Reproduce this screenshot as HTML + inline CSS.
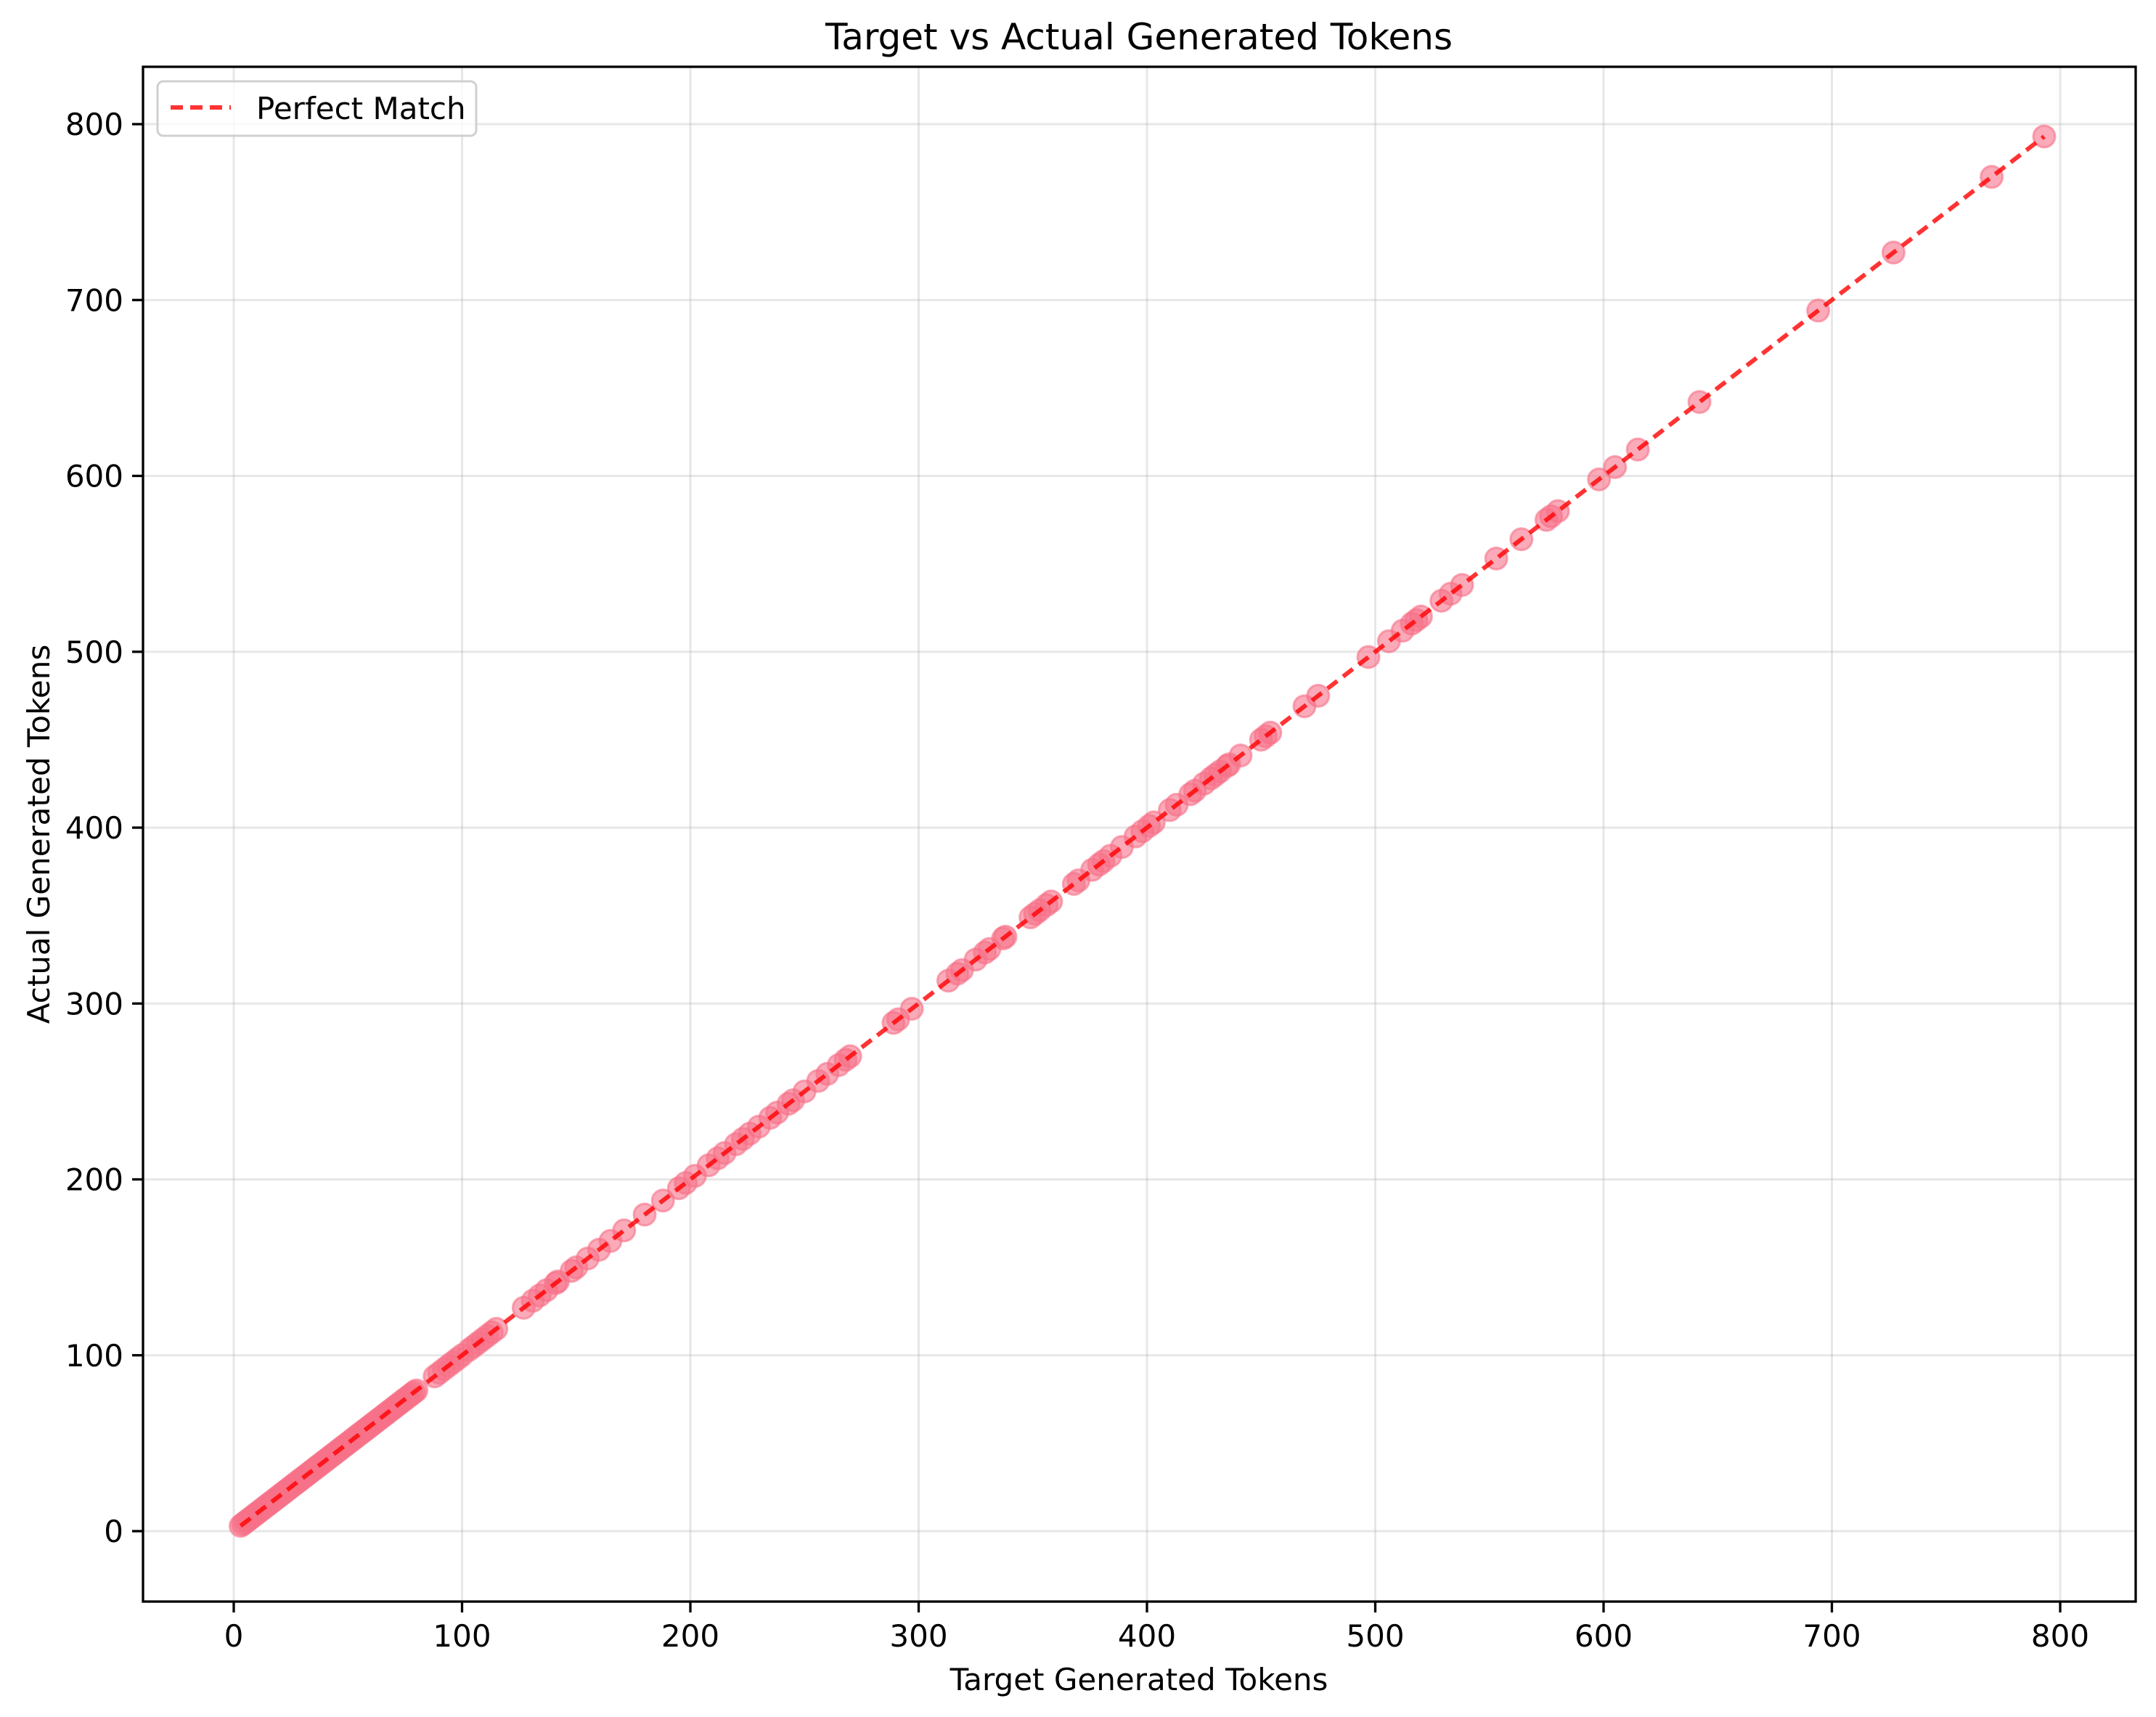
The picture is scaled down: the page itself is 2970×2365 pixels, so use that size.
<!DOCTYPE html>
<html><head><meta charset="utf-8"><style>
html,body{margin:0;padding:0;background:#fff}
svg{display:block;font-family:"DejaVu Sans","Liberation Sans",sans-serif}
</style></head><body>
<svg id="chart" width="2970" height="2365" viewBox="0 0 2970 2365" xmlns="http://www.w3.org/2000/svg">
<rect width="2970" height="2365" fill="#fff"/>
<g id="grid"></g>
<g id="points"></g>
<g id="line"></g>
<rect x="197" y="92" width="2745" height="2114" fill="none" stroke="#000" stroke-width="3.3"/>
<g id="ticks"></g>
<text x="1569" y="68" font-size="50" text-anchor="middle">Target vs Actual Generated Tokens</text>
<text x="1569" y="2328" font-size="42" text-anchor="middle">Target Generated Tokens</text>
<text x="0" y="0" font-size="42" text-anchor="middle" transform="translate(68,1149) rotate(-90)">Actual Generated Tokens</text>
<g>
<rect x="217" y="112" width="439" height="75" rx="8" fill="#fff" fill-opacity="0.8" stroke="#d0d0d0" stroke-width="3"/>
<line x1="235" y1="148" x2="318" y2="148" stroke="#ff0000" stroke-opacity="0.8" stroke-width="6" stroke-dasharray="17,10"/>
<text x="353" y="164" font-size="42">Perfect Match</text>
</g>
</svg>
<script>
const xTicks = [0,100,200,300,400,500,600,700,800];
const yTicks = [0,100,200,300,400,500,600,700,800];
const denseTargets = [3,4,5,6,7,8,9,10,11,12,13,14,15,16,17,18,19,20,21,22,23,24,25,26,27,28,29,30,31,32,33,34,35,36,37,38,39,40,41,42,43,44,45,46,47,48,49,50,51,52,53,54,55,56,57,58,59,60,61,62,63,64,65,66,67,68,69,70,71,72,73,74,75,76,77,78,79,80,88,90,92,94,96,98,100,103,105,107,109,111,113,115];
const sparseTargets = [127,131,134,137,141,142,148,150,155,160,165,171,180,188,195,198,202,208,212,215,220,223,226,230,235,238,243,245,250,256,260,265,268,270,289,291,297,313,317,319,325,329,331,337,338,349,351,353,356,358,368,370,376,379,381,384,389,395,398,401,403,410,413,419,421,425,428,430,432,435,436,441,450,452,454,469,475,497,506,512,516,518,520,529,533,538,553,564,575,577,580,598,605,615,642,694,727,770,793];
const targets = denseTargets.concat(sparseTargets);
const actuals = targets.slice();
const lineRange = [3,793];

const NS="http://www.w3.org/2000/svg";
const sx = v => 322 + v*3.145;
const sy = v => 2109 - v*2.4225;
function mk(tag, attrs, parent){const e=document.createElementNS(NS,tag);for(const k in attrs)e.setAttribute(k,attrs[k]);parent.appendChild(e);return e;}
const grid=document.getElementById('grid'), ticks=document.getElementById('ticks');
xTicks.forEach(t=>{
  const g=mk('line',{x1:sx(t),x2:sx(t),y1:92,y2:2206,stroke:'#b0b0b0','stroke-opacity':0.3,'stroke-width':3},grid);
  
  
  const tk=mk('line',{x1:sx(t),x2:sx(t),y1:2206,y2:2221,stroke:'#000','stroke-width':3.3},ticks);
  
  
  const tl=mk('text',{x:sx(t),y:2268,'font-size':42,'text-anchor':'middle'},ticks);
  tl.textContent=t;
  
  
});
yTicks.forEach(t=>{
  const g=mk('line',{x1:197,x2:2942,y1:sy(t),y2:sy(t),stroke:'#b0b0b0','stroke-opacity':0.3,'stroke-width':3},grid);
  
  
  const tk=mk('line',{x1:182,x2:197,y1:sy(t),y2:sy(t),stroke:'#000','stroke-width':3.3},ticks);
  
  
  const tl=mk('text',{x:170,y:sy(t)+15,'font-size':42,'text-anchor':'end'},ticks);
  tl.textContent=t;
  
  
});
const pts=document.getElementById('points');
targets.forEach((t,i)=>{
  const c=mk('circle',{cx:sx(t),cy:sy(actuals[i]),r:15,fill:'#f77189','fill-opacity':0.6,stroke:'#f77189','stroke-opacity':0.6,'stroke-width':3},pts);
  
  
});
const ln=mk('line',{x1:sx(lineRange[0]),y1:sy(lineRange[0]),x2:sx(lineRange[1]),y2:sy(lineRange[1]),stroke:'#ff0000','stroke-opacity':0.8,'stroke-width':6,'stroke-dasharray':'17,10'},document.getElementById('line'));


</script>
</body></html>
